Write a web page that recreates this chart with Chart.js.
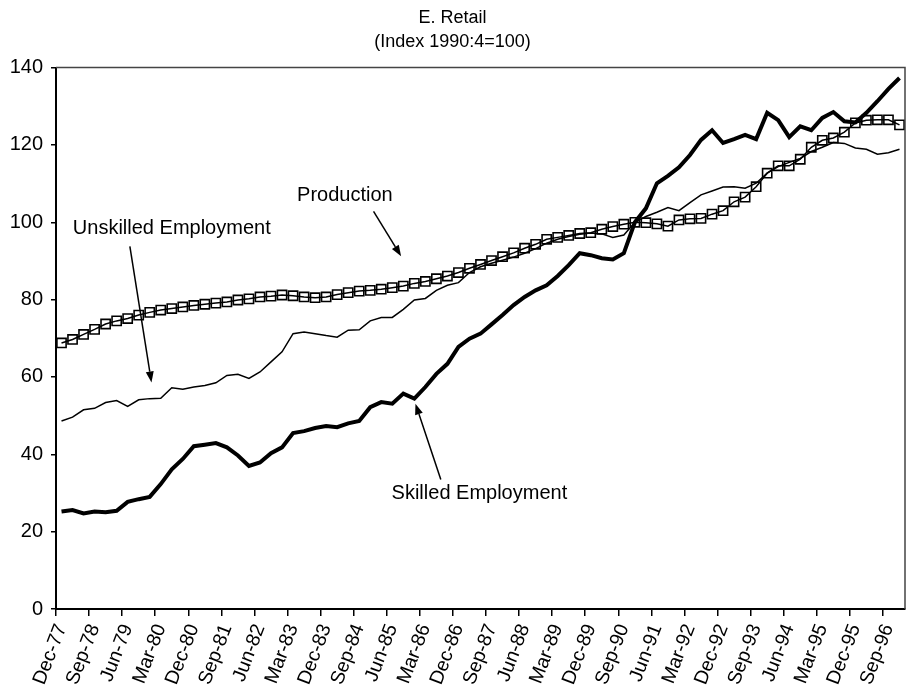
<!DOCTYPE html>
<html>
<head>
<meta charset="utf-8">
<script src="https://cdn.jsdelivr.net/npm/chart.js@4/dist/chart.umd.min.js"></script>
<style>
  html, body { margin: 0; padding: 0; background: #fff; }
  #c { display: block; }
</style>
</head>
<body>
<canvas id="c" width="906" height="696"></canvas>
<script>
// Quarterly categories, Dec-77 .. Dec-96
const quarters = [
  "Dec-77","Mar-78","Jun-78","Sep-78","Dec-78","Mar-79","Jun-79","Sep-79",
  "Dec-79","Mar-80","Jun-80","Sep-80","Dec-80","Mar-81","Jun-81","Sep-81",
  "Dec-81","Mar-82","Jun-82","Sep-82","Dec-82","Mar-83","Jun-83","Sep-83",
  "Dec-83","Mar-84","Jun-84","Sep-84","Dec-84","Mar-85","Jun-85","Sep-85",
  "Dec-85","Mar-86","Jun-86","Sep-86","Dec-86","Mar-87","Jun-87","Sep-87",
  "Dec-87","Mar-88","Jun-88","Sep-88","Dec-88","Mar-89","Jun-89","Sep-89",
  "Dec-89","Mar-90","Jun-90","Sep-90","Dec-90","Mar-91","Jun-91","Sep-91",
  "Dec-91","Mar-92","Jun-92","Sep-92","Dec-92","Mar-93","Jun-93","Sep-93",
  "Dec-93","Mar-94","Jun-94","Sep-94","Dec-94","Mar-95","Jun-95","Sep-95",
  "Dec-95","Mar-96","Jun-96","Sep-96","Dec-96"
];

// Only every third quarter is labelled on the axis
const tickLabels = [
  "Dec-77","Sep-78","Jun-79","Mar-80","Dec-80","Sep-81","Jun-82","Mar-83",
  "Dec-83","Sep-84","Jun-85","Mar-86","Dec-86","Sep-87","Jun-88","Mar-89",
  "Dec-89","Sep-90","Jun-91","Mar-92","Dec-92","Sep-93","Jun-94","Mar-95",
  "Dec-95","Sep-96"
];

const production = [
  68.8, 69.7, 71.0, 72.3, 73.7, 74.5, 75.1, 76.0, 76.7, 77.3,
  77.7, 78.1, 78.5, 78.8, 79.1, 79.4, 79.9, 80.2, 80.7, 80.9,
  81.2, 81.0, 80.7, 80.5, 80.7, 81.3, 81.8, 82.2, 82.4, 82.7,
  83.1, 83.5, 84.2, 84.7, 85.4, 86.1, 87.0, 88.1, 89.1, 90.1,
  91.1, 92.1, 93.3, 94.3, 95.6, 96.1, 96.6, 97.1, 97.3, 98.2,
  98.9, 99.5, 100.0, 99.9, 99.6, 99.0, 100.6, 100.9, 101.0, 102.1,
  103.0, 105.3, 106.5, 109.2, 112.7, 114.6, 114.6, 116.3, 119.4, 121.2,
  121.8, 123.3, 125.7, 126.4, 126.5, 126.5, 125.2
];

const unskilled = [
  48.6, 49.6, 51.5, 51.9, 53.4, 53.9, 52.4, 54.1, 54.4, 54.5,
  57.2, 56.8, 57.4, 57.8, 58.5, 60.4, 60.7, 59.6, 61.3, 63.9,
  66.5, 71.2, 71.6, 71.2, 70.7, 70.3, 72.1, 72.2, 74.5, 75.4,
  75.4, 77.5, 79.9, 80.3, 82.4, 83.7, 84.4, 87.0, 88.5, 89.4,
  90.2, 91.0, 92.0, 93.2, 94.6, 95.6, 96.3, 96.9, 97.2, 97.0,
  96.1, 96.7, 100.0, 101.5, 102.6, 103.8, 103.0, 105.1, 107.1, 108.1,
  109.1, 109.2, 108.8, 110.1, 112.7, 114.4, 115.5, 116.5, 118.3, 119.4,
  120.6, 120.4, 119.2, 118.9, 117.6, 118.0, 118.9
];

const skilled = [
  25.2, 25.6, 24.7, 25.2, 25.0, 25.4, 27.7, 28.4, 29.0, 32.3,
  36.1, 38.8, 42.1, 42.5, 42.9, 41.8, 39.7, 37.0, 37.9, 40.3,
  41.8, 45.5, 46.0, 46.8, 47.3, 47.0, 48.0, 48.6, 52.2, 53.5,
  53.1, 55.7, 54.4, 57.4, 60.8, 63.4, 67.8, 69.9, 71.2, 73.6,
  76.0, 78.6, 80.7, 82.4, 83.7, 86.1, 88.9, 92.0, 91.5, 90.7,
  90.4, 92.0, 100.0, 103.6, 110.1, 112.0, 114.2, 117.4, 121.3, 123.8,
  120.5, 121.5, 122.6, 121.5, 128.3, 126.4, 122.0, 124.8, 123.8, 127.0,
  128.5, 126.1, 125.8, 128.3, 131.3, 134.5, 137.3
];

const yTicks = [0, 20, 40, 60, 80, 100, 120, 140];

// Annotation labels with arrows, in data units (category index, value)
const notes = [
  { text: "Production",           tx: 25.7, ty: 107.0, ax0: 28.3, ay0: 102.8, ax1: 30.8, ay1: 91.2 },
  { text: "Unskilled Employment", tx: 10.0, ty: 98.4,  ax0: 6.2,  ay0: 93.8,  ax1: 8.16, ay1: 58.6 },
  { text: "Skilled Employment",   tx: 37.9, ty: 29.8,  ax0: 34.4, ay0: 33.5,  ax1: 32.1, ay1: 53.1 }
];

const FONT = "'Liberation Sans', Arial, Helvetica, sans-serif";

const annotationPlugin = {
  id: 'notes',
  afterDatasetsDraw(chart) {
    const { ctx, scales: { x, y }, chartArea } = chart;
    ctx.save();
    // top and right frame of the plot area
    ctx.strokeStyle = '#444';
    ctx.lineWidth = 1.5;
    ctx.beginPath();
    ctx.moveTo(chartArea.left, chartArea.top);
    ctx.lineTo(chartArea.right, chartArea.top);
    ctx.lineTo(chartArea.right, chartArea.bottom);
    ctx.stroke();

    ctx.fillStyle = '#000';
    ctx.strokeStyle = '#000';
    ctx.font = '20px ' + FONT;
    ctx.textAlign = 'center';
    ctx.textBaseline = 'middle';
    notes.forEach(n => {
      ctx.fillText(n.text, x.getPixelForValue(n.tx), y.getPixelForValue(n.ty));
      const x0 = x.getPixelForValue(n.ax0), y0 = y.getPixelForValue(n.ay0);
      const x1 = x.getPixelForValue(n.ax1), y1 = y.getPixelForValue(n.ay1);
      const ang = Math.atan2(y1 - y0, x1 - x0);
      const hl = 11, hw = 4;
      const bx = x1 - hl * Math.cos(ang), by = y1 - hl * Math.sin(ang);
      ctx.lineWidth = 1.5;
      ctx.beginPath();
      ctx.moveTo(x0, y0);
      ctx.lineTo(bx, by);
      ctx.stroke();
      ctx.beginPath();
      ctx.moveTo(x1, y1);
      ctx.lineTo(bx + hw * Math.sin(ang), by - hw * Math.cos(ang));
      ctx.lineTo(bx - hw * Math.sin(ang), by + hw * Math.cos(ang));
      ctx.closePath();
      ctx.fill();
    });
    ctx.restore();
  }
};

new Chart(document.getElementById('c'), {
  type: 'line',
  data: {
    labels: quarters,
    datasets: [
      {
        label: 'Unskilled Employment',
        data: unskilled,
        borderColor: '#000',
        borderWidth: 1.5,
        pointRadius: 0,
        tension: 0,
        fill: false
      },
      {
        label: 'Production',
        data: production,
        borderColor: '#000',
        borderWidth: 1.5,
        pointStyle: 'rect',
        pointRadius: 6.5,
        pointBorderWidth: 1.6,
        pointBorderColor: '#000',
        pointBackgroundColor: 'rgba(255,255,255,0)',
        tension: 0,
        fill: false
      },
      {
        label: 'Skilled Employment',
        data: skilled,
        borderColor: '#000',
        borderWidth: 4,
        pointRadius: 0,
        tension: 0,
        fill: false
      }
    ]
  },
  options: {
    responsive: false,
    devicePixelRatio: 1,
    animation: false,
    layout: { autoPadding: false, padding: { left: 0, right: 1, top: 0, bottom: 0 } },
    plugins: {
      legend: { display: false },
      tooltip: { enabled: false },
      title: {
        display: true,
        text: ['E. Retail', '(Index 1990:4=100)'],
        color: '#000',
        font: { family: FONT, size: 18, weight: 'normal', lineHeight: 1.35 },
        padding: { top: 6, bottom: 13 }
      }
    },
    scales: {
      x: {
        type: 'category',
        offset: true,
        afterFit(scale) {
          scale.height = 87;
          scale.paddingLeft = 0;
          scale.paddingRight = 0;
        },
        border: { display: true, color: '#000', width: 2 },
        grid: {
          display: true,
          offset: true,
          drawOnChartArea: false,
          drawTicks: true,
          tickLength: 7,
          lineWidth: 1.5,
          color: (c) => (c.index % 3 === 0 ? '#000' : 'rgba(0,0,0,0)')
        },
        ticks: {
          autoSkip: false,
          maxRotation: 69,
          minRotation: 69,
          padding: 5,
          color: '#000',
          font: { family: FONT, size: 19.5 },
          callback: function (val, idx) {
            const lab = quarters[idx];
            return tickLabels.includes(lab) && idx % 3 === 0 ? lab : '';
          }
        }
      },
      y: {
        min: yTicks[0],
        max: yTicks[yTicks.length - 1],
        afterFit(scale) {
          scale.width = 56;
          scale.paddingTop = 0;
          scale.paddingBottom = 0;
        },
        afterBuildTicks(scale) { scale.ticks = yTicks.map(v => ({ value: v })); },
        border: { display: true, color: '#000', width: 2 },
        grid: {
          display: true,
          drawOnChartArea: false,
          drawTicks: true,
          tickLength: 5,
          lineWidth: 1.5,
          color: '#000'
        },
        ticks: {
          padding: 8,
          color: '#000',
          font: { family: FONT, size: 20 }
        }
      }
    }
  },
  plugins: [annotationPlugin]
});
</script>
</body>
</html>
